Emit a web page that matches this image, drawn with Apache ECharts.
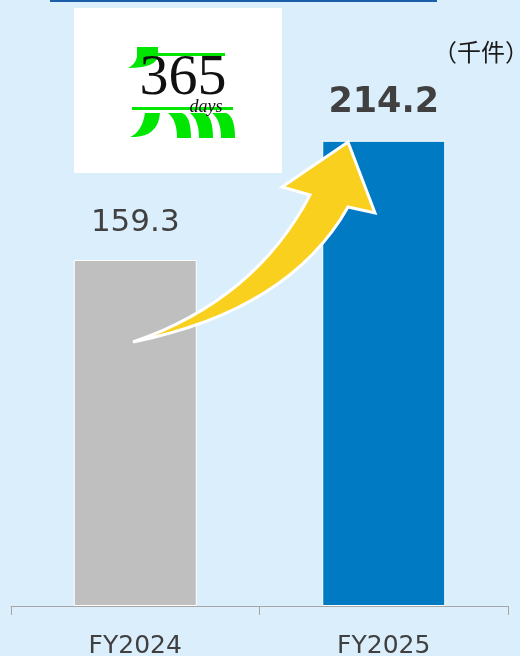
<!DOCTYPE html>
<html>
<head>
<meta charset="utf-8">
<script src="https://cdn.jsdelivr.net/npm/echarts@6/dist/echarts.min.js"></script>
<style>
  html, body { margin: 0; padding: 0; background: #dbeefc; }
  #chart { width: 520px; height: 656px; }
</style>
</head>
<body>
<div id="chart"></div>
<script>
  // données
  const years = ['FY2024', 'FY2025'];
  const values = [159.3, 214.2];
  const barColors = ['#bfbfbf', '#007bc3'];
  const unit = '（千件）';

  const GREEN = '#00e600';
  const chart = echarts.init(document.getElementById('chart'));

  // courbe quadratique -> liste de points (pour les polygones décoratifs)
  function quad(p0, c, p2, n) {
    const pts = [];
    for (let i = 1; i <= n; i++) {
      const t = i / n, u = 1 - t;
      pts.push([u * u * p0[0] + 2 * u * t * c[0] + t * t * p2[0], u * u * p0[1] + 2 * u * t * c[1] + t * t * p2[1]]);
    }
    return pts;
  }
  const poly = (pts, fill, extra) => Object.assign({ type: 'polygon', shape: { points: pts }, style: { fill } }, extra || {});

  // logo "365 days" (décor)
  const topJ = [[137, 47], [158, 47], [158, 53], [225, 53], [225, 56], [158, 56],
    ...quad([158, 56], [156, 68], [128, 68], 8), ...quad([128, 68], [136, 64], [137, 56], 6)];
  const botJ = [[145, 113], [160, 113], ...quad([160, 113], [158, 138], [130, 137], 10), ...quad([130, 137], [142, 132], [145, 113], 8)];
  const mLegs = [0, 1, 2].map((i) => {
    const x0 = 168 + i * 22;
    return poly([[x0, 113], [x0 + 14, 113], ...quad([x0 + 14, 113], [x0 + 23, 116], [x0 + 23, 138], 8),
      [x0 + 9, 138], ...quad([x0 + 9, 138], [x0 + 9, 120], [x0, 113], 8)], GREEN);
  });

  // flèche jaune
  const arrow = [[133, 342], ...quad([133, 342], [255, 300], [310, 195], 16),
    [282, 187], [348, 142], [375, 213], [348, 207], ...quad([348, 207], [290, 310], [133, 342], 16)];

  chart.setOption({
    backgroundColor: '#dbeefc',
    animation: false,
    grid: { left: 11, right: 12, top: 63, bottom: 50, outerBoundsMode: 'none' },
    xAxis: {
      type: 'category',
      data: years,
      axisLine: { lineStyle: { color: '#a6a6a6', width: 1 } },
      axisTick: { show: true, alignWithLabel: false, length: 9, lineStyle: { color: '#a6a6a6' } },
      axisLabel: { color: '#404040', fontSize: 25, fontFamily: 'DejaVu Sans', margin: 28 }
    },
    yAxis: { type: 'value', min: 0, max: 250, show: false, splitLine: { show: false } },
    series: [{
      type: 'bar',
      barWidth: '49.5%',
      data: values.map((v, i) => ({
        value: v,
        itemStyle: { color: barColors[i], borderColor: '#ffffff', borderWidth: 1 },
        label: i === 1
          ? { fontSize: 35, fontWeight: 'bold', distance: 20 }
          : { fontSize: 31, fontWeight: 'normal', distance: 22 }
      })),
      label: {
        show: true, position: 'top', color: '#404040', fontFamily: 'DejaVu Sans',
        formatter: (p) => p.value.toFixed(1)
      }
    }],
    graphic: [
      // bord du cadre au-dessus
      { type: 'rect', shape: { x: 50, y: -1, width: 387, height: 3 }, style: { fill: '#1a5fa8' } },
      // unité
      { type: 'text', x: 433, y: 52, style: { text: unit, fontSize: 24, fill: '#1a1a1a', fontFamily: 'Noto Sans CJK JP', verticalAlign: 'middle' } },
      // logo
      { type: 'rect', shape: { x: 74, y: 8, width: 208, height: 165 }, style: { fill: '#ffffff' } },
      poly(topJ, GREEN),
      { type: 'rect', shape: { x: 132, y: 107, width: 101, height: 3 }, style: { fill: GREEN } },
      poly(botJ, GREEN),
      ...mLegs,
      { type: 'text', x: 183, y: 79, style: { text: '365', fontSize: 58, fontFamily: 'Liberation Serif', fill: '#111', align: 'center', verticalAlign: 'middle' } },
      { type: 'text', x: 206, y: 107, style: { text: 'days', fontSize: 18, fontStyle: 'italic', fontFamily: 'Liberation Serif', fill: '#111', align: 'center', verticalAlign: 'middle' } },
      poly(arrow, '#f9d01e', { z: 10, style: { fill: '#f9d01e', stroke: '#ffffff', lineWidth: 3, lineJoin: 'miter' } })
    ]
  });
</script>
</body>
</html>
